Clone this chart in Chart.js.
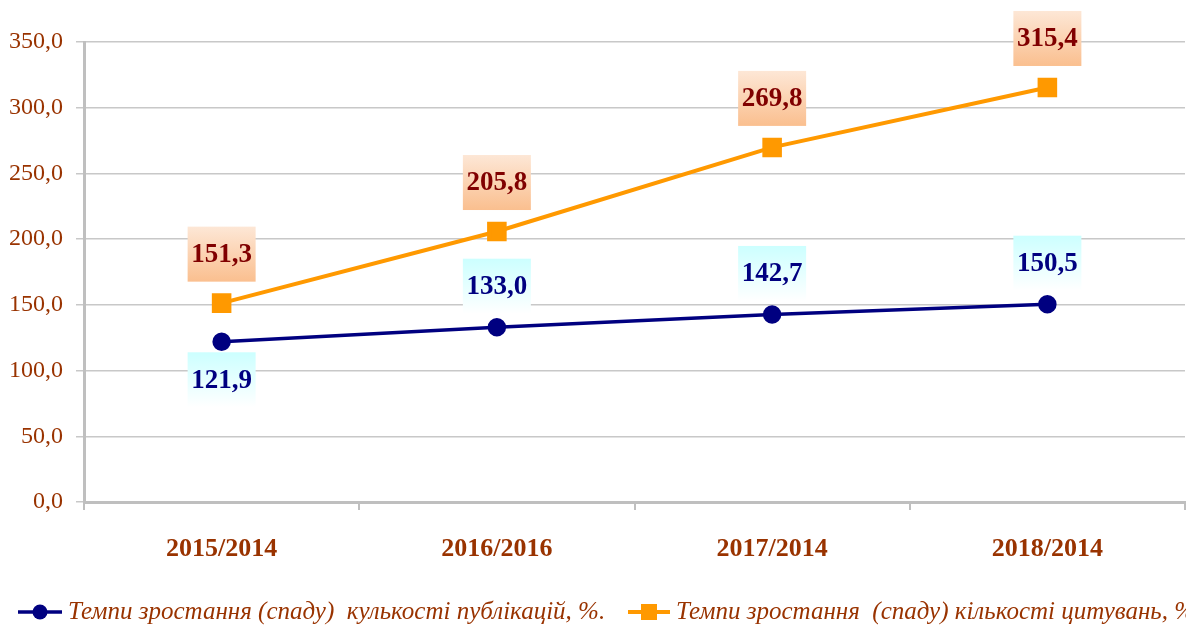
<!DOCTYPE html>
<html>
<head>
<meta charset="utf-8">
<script src="https://cdn.jsdelivr.net/npm/chart.js@4.4.1/dist/chart.umd.min.js"></script>
<style>
  html, body { margin: 0; padding: 0; background: #fff; overflow: hidden; }
  #wrap { width: 1200px; height: 627px; }
</style>
</head>
<body>
<div id="wrap"><canvas id="growthChart" width="1200" height="627"></canvas></div>
<script>
// Темпи зростання публікацій і цитувань
var categories = ['2015/2014', '2016/2016', '2017/2014', '2018/2014'];
var publications = [121.9, 133.0, 142.7, 150.5];
var citations = [151.3, 205.8, 269.8, 315.4];
var pubLabelSide = ['below', 'above', 'above', 'above'];
var seriesNames = [
    'Темпи зростання (спаду)  кулькості публікацій, %.',
    'Темпи зростання  (спаду) кількості цитувань, %'
];

var Brown = '#993300';
var Navy = '#000080';
var Orange = '#FF9900';
var Serif = '"Liberation Serif", "Times New Roman", serif';
var fmt = function (v) { return v.toFixed(1).replace('.', ','); };

// value boxes above / below the points
var valueBoxes = {
    id: 'valueBoxes',
    afterDatasetsDraw: function (chart) {
        var ctx = chart.ctx;
        var y = chart.scales.y;
        var x = chart.scales.x;
        ctx.save();
        ctx.font = 'bold 27px ' + Serif;
        ctx.textAlign = 'center';
        ctx.textBaseline = 'middle';
        var w = 68, h = 55;
        function box(cx, cy, top, bottom, color, text) {
            var g = ctx.createLinearGradient(0, cy - h / 2, 0, cy + h / 2);
            g.addColorStop(0, top);
            g.addColorStop(1, bottom);
            ctx.fillStyle = g;
            ctx.fillRect(cx - w / 2, cy - h / 2, w, h);
            ctx.fillStyle = color;
            ctx.fillText(text, cx, cy + 1);
        }
        citations.forEach(function (v, i) {
            var px = x.getPixelForValue(i);
            var py = y.getPixelForValue(v);
            box(px, py - 49, '#fde7d6', '#fabf8f', '#800000', fmt(v));
        });
        publications.forEach(function (v, i) {
            var px = x.getPixelForValue(i);
            var py = y.getPixelForValue(v);
            var cy = pubLabelSide[i] === 'below' ? py + 38 : py - 41;
            box(px, cy, '#ccffff', '#ffffff', Navy, fmt(v));
        });
        ctx.restore();
    }
};

// legend with line + marker, like the original
var lineLegend = {
    id: 'lineLegend',
    afterDraw: function (chart) {
        var ctx = chart.ctx;
        var ly = 612;
        ctx.save();
        ctx.font = 'italic 25px ' + Serif;
        ctx.textBaseline = 'middle';
        ctx.textAlign = 'left';
        // blue
        ctx.strokeStyle = Navy;
        ctx.lineWidth = 3.5;
        ctx.beginPath(); ctx.moveTo(18, ly); ctx.lineTo(62, ly); ctx.stroke();
        ctx.fillStyle = Navy;
        ctx.beginPath(); ctx.arc(40, ly, 7.5, 0, Math.PI * 2); ctx.fill();
        ctx.fillStyle = Brown;
        ctx.fillText(seriesNames[0], 68, ly);
        // orange
        ctx.strokeStyle = Orange;
        ctx.lineWidth = 4;
        ctx.beginPath(); ctx.moveTo(628, ly); ctx.lineTo(670, ly); ctx.stroke();
        ctx.fillStyle = Orange;
        ctx.fillRect(641, ly - 8, 16, 16);
        ctx.fillStyle = Brown;
        ctx.fillText(seriesNames[1], 676, ly);
        ctx.restore();
    }
};

var ctx = document.getElementById('growthChart').getContext('2d');
var growthChart = new Chart(ctx, {
    type: 'line',
    data: {
        labels: categories,
        datasets: [{
            label: seriesNames[0],
            data: publications,
            borderColor: Navy,
            backgroundColor: Navy,
            borderWidth: 3.5,
            pointStyle: 'circle',
            pointRadius: 7.5,
            pointHoverRadius: 7.5,
        }, {
            label: seriesNames[1],
            data: citations,
            borderColor: Orange,
            backgroundColor: Orange,
            borderWidth: 4,
            pointStyle: 'rect',
            pointRadius: 11,
            pointHoverRadius: 11,
        }],
    },
    options: {
        responsive: false,
        animation: false,
        layout: { padding: { top: 42, right: 8, left: 0, bottom: 0 } },
        plugins: {
            legend: { display: false },
            tooltip: { enabled: false },
        },
        scales: {
            x: {
                offset: true,
                grid: {
                    offset: true,
                    drawOnChartArea: false,
                    drawTicks: true,
                    tickLength: 8,
                    color: '#bfbfbf',
                    lineWidth: 2,
                },
                border: { color: '#bfbfbf', width: 3 },
                ticks: {
                    color: Brown,
                    padding: 24,
                    font: { family: Serif, size: 26, weight: 'bold' },
                },
                afterFit: function (scale) { scale.height = 125; },
            },
            y: {
                min: 0,
                max: 350,
                grid: {
                    color: '#c8c8c8',
                    lineWidth: 1.5,
                    tickLength: 8,
                },
                border: { color: '#bfbfbf', width: 3 },
                ticks: {
                    stepSize: 50,
                    color: Brown,
                    padding: 13,
                    font: { family: Serif, size: 24 },
                    callback: function (v) { return fmt(v); },
                },
                afterFit: function (scale) { scale.width = 84; },
            },
        },
    },
    plugins: [valueBoxes, lineLegend],
});
</script>
</body>
</html>
